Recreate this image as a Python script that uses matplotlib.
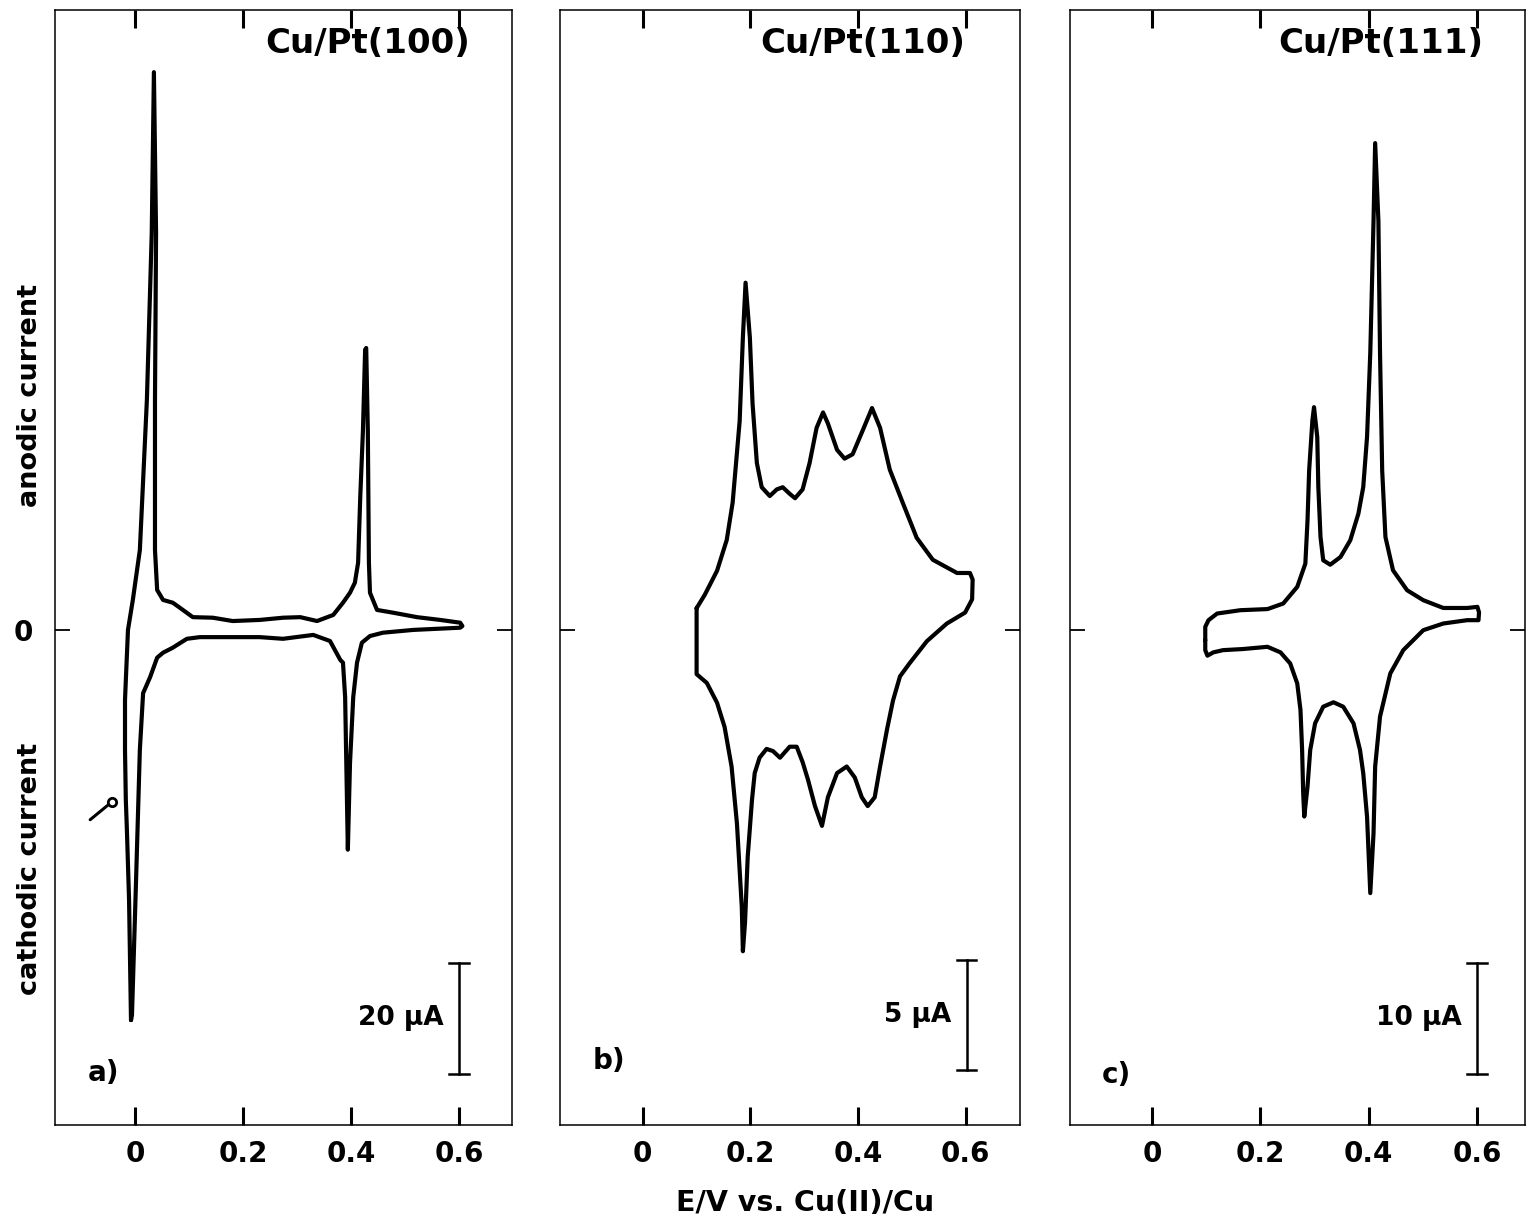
import matplotlib
matplotlib.use("Agg")
import matplotlib.pyplot as plt
import numpy as np

plt.rcParams['font.family'] = ['DejaVu Sans']
plt.rcParams['font.weight'] = 'bold'

# ---------------- data (E in V vs Cu(II)/Cu, I in microampere) ----------------
# Panel a: Cu/Pt(100) -- closed voltammogram loop
E_a = [-0.0074, -0.011, -0.015, -0.017, -0.0185, -0.0185, -0.013, -0.004, 0.009, 0.022,
       0.031, 0.035, 0.039, 0.037, 0.037, 0.041, 0.052, 0.070, 0.083, 0.107,
       0.144, 0.181, 0.231, 0.274, 0.306, 0.337, 0.367, 0.385, 0.398, 0.407,
       0.413, 0.417, 0.422, 0.426, 0.428, 0.431, 0.433, 0.435, 0.448, 0.478,
       0.522, 0.565, 0.602, 0.606, 0.602, 0.515, 0.459, 0.435, 0.420, 0.411,
       0.404, 0.398, 0.394, 0.389, 0.385, 0.380, 0.361, 0.330, 0.274, 0.231,
       0.181, 0.120, 0.096, 0.070, 0.052, 0.041, 0.028, 0.015, 0.009, 0.002,
       -0.0056, -0.0074]
I_a = [-70.3, -48.6, -36.0, -30.6, -21.6, -12.6, 0.0, 5.4, 14.4, 41.4,
       71.5, 100.5, 71.5, 41.4, 14.4, 7.2, 5.4, 4.9, 4.0, 2.3,
       2.2, 1.6, 1.8, 2.2, 2.3, 1.6, 2.7, 4.9, 6.7, 8.5,
       12.1, 24.0, 36.0, 50.5, 50.8, 36.0, 12.1, 6.7, 3.6, 3.1,
       2.3, 1.8, 1.3, 0.7, 0.4, 0.0, -0.5, -1.1, -2.3, -5.9,
       -12.1, -24.0, -39.6, -12.1, -5.9, -5.4, -2.0, -0.9, -1.6, -1.3,
       -1.3, -1.3, -1.6, -3.2, -4.1, -5.0, -8.5, -11.4, -21.6, -45.0,
       -69.4, -70.3]

# Panel b: Cu/Pt(110)
E_b = [0.100, 0.115, 0.138, 0.156, 0.167, 0.180, 0.186, 0.191, 0.199, 0.204,
       0.212, 0.221, 0.236, 0.249, 0.260, 0.273, 0.283, 0.297, 0.310, 0.323,
       0.335, 0.344, 0.361, 0.375, 0.390, 0.409, 0.426, 0.441, 0.459, 0.483,
       0.509, 0.539, 0.584, 0.608, 0.613, 0.612, 0.599, 0.565, 0.528, 0.496,
       0.478, 0.465, 0.454, 0.441, 0.431, 0.418, 0.407, 0.394, 0.379, 0.361,
       0.344, 0.333, 0.320, 0.307, 0.297, 0.286, 0.273, 0.255, 0.242, 0.230,
       0.217, 0.208, 0.203, 0.195, 0.190, 0.186, 0.184, 0.175, 0.165, 0.152,
       0.138, 0.119, 0.100, 0.100]
I_b = [1.0, 1.6, 2.7, 4.1, 5.8, 9.5, 13.3, 15.8, 13.3, 10.3,
       7.6, 6.5, 6.1, 6.4, 6.5, 6.2, 6.0, 6.4, 7.6, 9.2,
       9.9, 9.4, 8.2, 7.8, 8.0, 9.1, 10.1, 9.2, 7.3, 5.8,
       4.2, 3.2, 2.6, 2.6, 2.3, 1.4, 0.8, 0.3, -0.5, -1.5,
       -2.1, -3.2, -4.5, -6.2, -7.6, -8.0, -7.6, -6.7, -6.2, -6.5,
       -7.6, -8.9, -8.0, -6.8, -6.0, -5.3, -5.3, -5.8, -5.5, -5.4,
       -5.8, -6.5, -7.7, -10.3, -13.3, -14.6, -12.6, -8.8, -6.2, -4.4,
       -3.3, -2.4, -2.0, 1.0]

# Panel c: Cu/Pt(111)
E_c = [0.098, 0.098, 0.104, 0.120, 0.163, 0.213, 0.242, 0.268, 0.283, 0.287,
       0.290, 0.296, 0.299, 0.305, 0.307, 0.311, 0.316, 0.329, 0.348, 0.366,
       0.381, 0.390, 0.397, 0.403, 0.409, 0.412, 0.418, 0.421, 0.425, 0.431,
       0.445, 0.471, 0.501, 0.538, 0.582, 0.601, 0.604, 0.603, 0.582, 0.538,
       0.501, 0.464, 0.440, 0.421, 0.412, 0.409, 0.403, 0.397, 0.390, 0.384,
       0.372, 0.353, 0.335, 0.316, 0.301, 0.292, 0.287, 0.281, 0.279, 0.277,
       0.274, 0.268, 0.255, 0.237, 0.213, 0.168, 0.131, 0.113, 0.102, 0.098,
       0.098]
I_c = [-0.9, 0.3, 0.9, 1.5, 1.8, 1.9, 2.4, 3.9, 6.0, 9.9,
       14.4, 18.9, 20.1, 17.4, 12.9, 8.4, 6.3, 5.9, 6.6, 8.1,
       10.5, 12.9, 17.4, 25.0, 36.9, 43.9, 36.9, 25.0, 14.4, 8.4,
       5.4, 3.6, 2.7, 2.0, 2.0, 2.1, 1.6, 0.9, 0.9, 0.6,
       0.0, -1.8, -3.9, -7.8, -12.3, -18.3, -23.7, -16.8, -12.9, -10.8,
       -8.4, -6.9, -6.5, -6.9, -8.4, -10.8, -14.1, -16.8, -14.7, -10.8,
       -7.2, -4.8, -3.0, -2.0, -1.5, -1.7, -1.8, -2.0, -2.3, -1.8,
       -0.9]

titles = ["Cu/Pt(100)", "Cu/Pt(110)", "Cu/Pt(111)"]
panel_tags = ["a)", "b)", "c)"]
tick_values = [0, 0.2, 0.4, 0.6]
tick_labels = ["0", "0.2", "0.4", "0.6"]
scale_labels = ["20 \u00b5A", "5 \u00b5A", "10 \u00b5A"]
scale_E = [0.6, 0.602, 0.6]
scale_lo = [-80, -20, -40]
scale_hi = [-60, -15, -30]
arrow_a_E = [-0.083, -0.043]
arrow_a_I = [-34.2, -31.0]

xlims = [(-0.148, 0.698), (-0.154, 0.701), (-0.152, 0.689)]
ylims = [(-89.2, 111.7), (-22.5, 28.2), (-44.6, 55.9)]
ax_rects = [(0.0360, 0.0779, 0.2989, 0.9139),
            (0.3662, 0.0779, 0.3009, 0.9139),
            (0.6998, 0.0779, 0.2976, 0.9139)]
title_x = [0.908, 0.880, 0.908]
label_pos = [(0.072, 0.047), (0.070, 0.057), (0.070, 0.045)]

fig = plt.figure(figsize=(15.29, 12.20), dpi=100)
curves = [(E_a, I_a), (E_b, I_b), (E_c, I_c)]

for k in range(3):
    ax = fig.add_axes(ax_rects[k])
    E, I = curves[k]
    ax.plot(E, I, color='black', lw=3.0, solid_joinstyle='round', solid_capstyle='round')
    ax.set_xlim(*xlims[k])
    ax.set_ylim(*ylims[k])
    for s in ax.spines.values():
        s.set_linewidth(1.1)
    ax.set_xticks(tick_values)
    ax.set_xticklabels(tick_labels, fontsize=20, fontweight='bold')
    ax.tick_params(axis='x', direction='in', length=13, width=2.2, top=True,
                   bottom=True, pad=11)
    ax.set_yticks([0])
    if k == 0:
        ax.set_yticklabels(["0"], fontsize=20, fontweight='bold')
    else:
        ax.set_yticklabels([""])
    ax.tick_params(axis='y', direction='in', length=11, width=1.3, left=True,
                   right=True, pad=16)
    # title
    ax.text(title_x[k], 0.985, titles[k], transform=ax.transAxes, ha='right', va='top',
            fontsize=24.5, fontweight='bold')
    # panel tag
    ax.text(label_pos[k][0], label_pos[k][1], panel_tags[k], transform=ax.transAxes,
            ha='left', va='center', fontsize=20, fontweight='bold')
    # scale bar
    xe = scale_E[k]
    ax.plot([xe, xe], [scale_lo[k], scale_hi[k]], color='black', lw=1.8)
    cw = 0.018
    ax.plot([xe - cw, xe + cw], [scale_lo[k], scale_lo[k]], color='black', lw=1.8)
    ax.plot([xe - cw, xe + cw], [scale_hi[k], scale_hi[k]], color='black', lw=1.8)
    ax.text(xe - 0.028, 0.5 * (scale_lo[k] + scale_hi[k]), scale_labels[k],
            ha='right', va='center', fontsize=19, fontweight='bold')
    if k == 0:
        ax.plot(arrow_a_E, arrow_a_I, color='black', lw=2.2, solid_capstyle='round')
        ax.plot([arrow_a_E[1]], [arrow_a_I[1]], marker='o', ms=6, mfc='white',
                mec='black', mew=2)

fig.text(0.0196, 0.676, "anodic current", rotation=90, ha='center', va='center',
         fontsize=19.5, fontweight='bold')
fig.text(0.0196, 0.288, "cathodic current", rotation=90, ha='center', va='center',
         fontsize=19.5, fontweight='bold')
fig.text(0.5265, 0.014, "E/V vs. Cu(II)/Cu", ha='center', va='center',
         fontsize=20.5, fontweight='bold')

fig.savefig("out.png", dpi=100)
